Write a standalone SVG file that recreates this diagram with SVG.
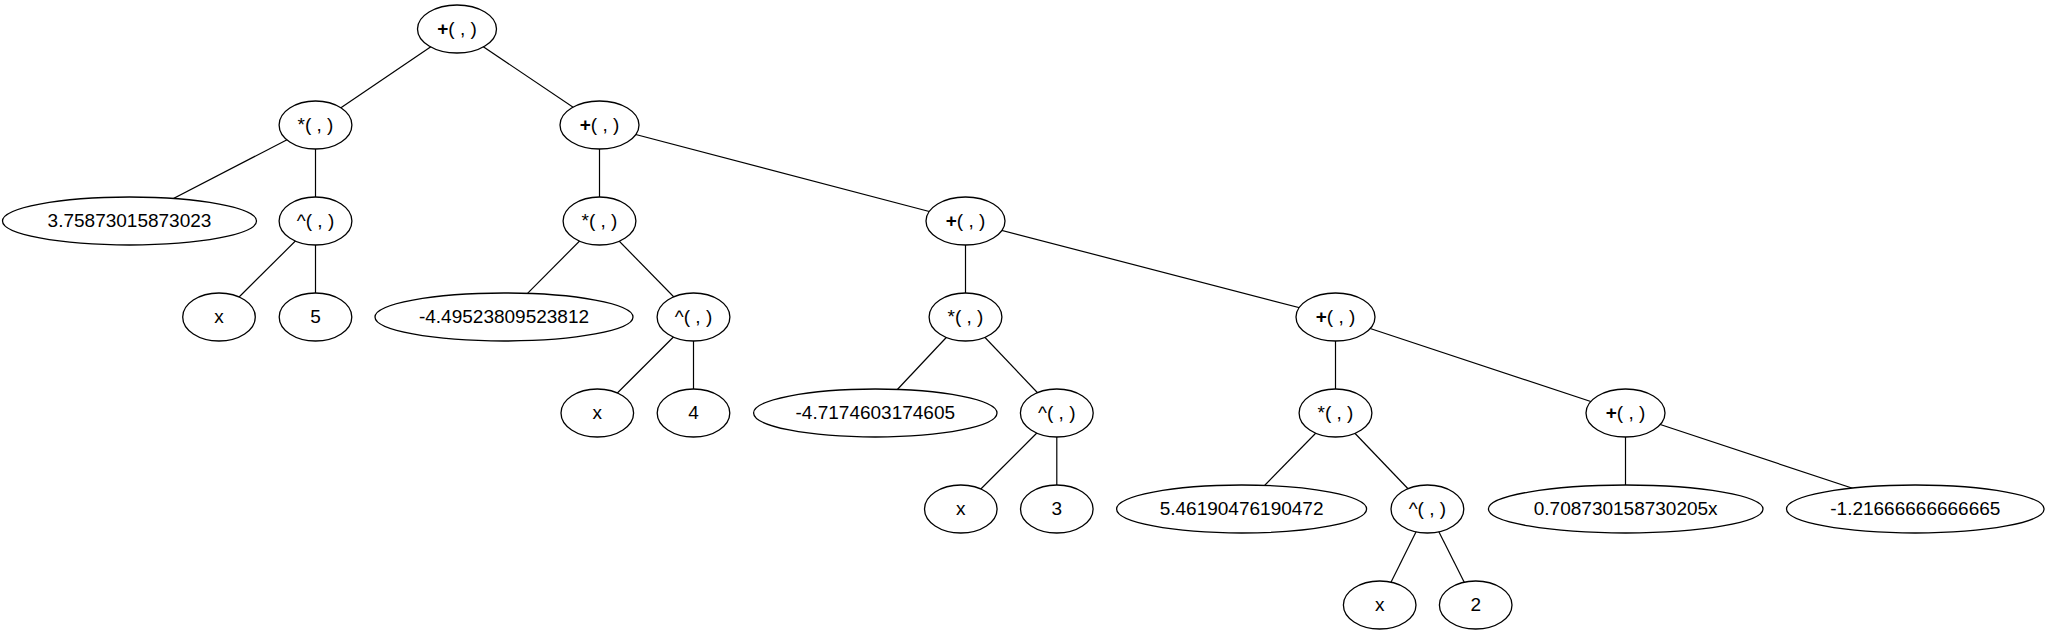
<svg xmlns="http://www.w3.org/2000/svg" width="2051" height="635" viewBox="0 0 2051 635">
<style>
.n ellipse{fill:#fff;stroke:#000;stroke-width:1.3}
.n text{font-family:"Liberation Sans",Arial,sans-serif;font-size:19px;text-anchor:middle;fill:#000}
.b{font-weight:bold}
#edges line{stroke:#000;stroke-width:1.2}
</style>
<rect width="2051" height="635" fill="#fff"/>
<g id="edges">
<line x1="457" y1="29" x2="315.5" y2="125"/>
<line x1="457" y1="29" x2="599.5" y2="125"/>
<line x1="315.5" y1="125" x2="130" y2="221"/>
<line x1="315.5" y1="125" x2="315.5" y2="221"/>
<line x1="599.5" y1="125" x2="599.5" y2="221"/>
<line x1="599.5" y1="125" x2="965.5" y2="221"/>
<line x1="315.5" y1="221" x2="219" y2="317"/>
<line x1="315.5" y1="221" x2="315.5" y2="317"/>
<line x1="599.5" y1="221" x2="504" y2="317"/>
<line x1="599.5" y1="221" x2="693.5" y2="317"/>
<line x1="965.5" y1="221" x2="965.5" y2="317"/>
<line x1="965.5" y1="221" x2="1335.5" y2="317"/>
<line x1="693.5" y1="317" x2="597.3" y2="413"/>
<line x1="693.5" y1="317" x2="693.5" y2="413"/>
<line x1="965.5" y1="317" x2="875.3" y2="413"/>
<line x1="965.5" y1="317" x2="1056.8" y2="413"/>
<line x1="1335.5" y1="317" x2="1335.5" y2="413"/>
<line x1="1335.5" y1="317" x2="1625.5" y2="413"/>
<line x1="1056.8" y1="413" x2="960.8" y2="509"/>
<line x1="1056.8" y1="413" x2="1056.8" y2="509"/>
<line x1="1335.5" y1="413" x2="1241.6" y2="509"/>
<line x1="1335.5" y1="413" x2="1427.4" y2="509"/>
<line x1="1625.5" y1="413" x2="1625.5" y2="509"/>
<line x1="1625.5" y1="413" x2="1915.3" y2="509"/>
<line x1="1427.4" y1="509" x2="1379.7" y2="605"/>
<line x1="1427.4" y1="509" x2="1475.7" y2="605"/>
</g>
<g id="n0" class="n"><ellipse cx="457" cy="29" rx="39.5" ry="24"/><text x="457" y="35"><tspan class="b">+</tspan>( , )</text></g>
<g id="n1" class="n"><ellipse cx="315.5" cy="125" rx="36.4" ry="24"/><text x="315.5" y="131">*( , )</text></g>
<g id="n2" class="n"><ellipse cx="599.5" cy="125" rx="39.5" ry="24"/><text x="599.5" y="131"><tspan class="b">+</tspan>( , )</text></g>
<g id="n3" class="n"><ellipse cx="129.5" cy="221" rx="127" ry="24"/><text x="129.5" y="227">3.75873015873023</text></g>
<g id="n4" class="n"><ellipse cx="315.5" cy="221" rx="36.4" ry="24"/><text x="315.5" y="227">^( , )</text></g>
<g id="n5" class="n"><ellipse cx="599.5" cy="221" rx="36.4" ry="24"/><text x="599.5" y="227">*( , )</text></g>
<g id="n6" class="n"><ellipse cx="965.5" cy="221" rx="39.5" ry="24"/><text x="965.5" y="227"><tspan class="b">+</tspan>( , )</text></g>
<g id="n7" class="n"><ellipse cx="219" cy="317" rx="36.3" ry="24"/><text x="219" y="323">x</text></g>
<g id="n8" class="n"><ellipse cx="315.5" cy="317" rx="36.3" ry="24"/><text x="315.5" y="323">5</text></g>
<g id="n9" class="n"><ellipse cx="504" cy="317" rx="129" ry="24"/><text x="504" y="323">-4.49523809523812</text></g>
<g id="n10" class="n"><ellipse cx="693.5" cy="317" rx="36.4" ry="24"/><text x="693.5" y="323">^( , )</text></g>
<g id="n11" class="n"><ellipse cx="965.5" cy="317" rx="36.4" ry="24"/><text x="965.5" y="323">*( , )</text></g>
<g id="n12" class="n"><ellipse cx="1335.5" cy="317" rx="39.5" ry="24"/><text x="1335.5" y="323"><tspan class="b">+</tspan>( , )</text></g>
<g id="n13" class="n"><ellipse cx="597.3" cy="413" rx="36.3" ry="24"/><text x="597.3" y="419">x</text></g>
<g id="n14" class="n"><ellipse cx="693.5" cy="413" rx="36.3" ry="24"/><text x="693.5" y="419">4</text></g>
<g id="n15" class="n"><ellipse cx="875.3" cy="413" rx="121.7" ry="24"/><text x="875.3" y="419">-4.7174603174605</text></g>
<g id="n16" class="n"><ellipse cx="1056.8" cy="413" rx="36.4" ry="24"/><text x="1056.8" y="419">^( , )</text></g>
<g id="n17" class="n"><ellipse cx="1335.5" cy="413" rx="36.4" ry="24"/><text x="1335.5" y="419">*( , )</text></g>
<g id="n18" class="n"><ellipse cx="1625.5" cy="413" rx="39.5" ry="24"/><text x="1625.5" y="419"><tspan class="b">+</tspan>( , )</text></g>
<g id="n19" class="n"><ellipse cx="960.8" cy="509" rx="36.3" ry="24"/><text x="960.8" y="515">x</text></g>
<g id="n20" class="n"><ellipse cx="1056.8" cy="509" rx="36.3" ry="24"/><text x="1056.8" y="515">3</text></g>
<g id="n21" class="n"><ellipse cx="1241.6" cy="509" rx="125" ry="24"/><text x="1241.6" y="515">5.46190476190472</text></g>
<g id="n22" class="n"><ellipse cx="1427.4" cy="509" rx="36.4" ry="24"/><text x="1427.4" y="515">^( , )</text></g>
<g id="n23" class="n"><ellipse cx="1625.7" cy="509" rx="137.3" ry="24"/><text x="1625.7" y="515">0.708730158730205x</text></g>
<g id="n24" class="n"><ellipse cx="1915.3" cy="509" rx="128.8" ry="24"/><text x="1915.3" y="515">-1.21666666666665</text></g>
<g id="n25" class="n"><ellipse cx="1379.7" cy="605" rx="36.3" ry="24"/><text x="1379.7" y="611">x</text></g>
<g id="n26" class="n"><ellipse cx="1475.7" cy="605" rx="36.3" ry="24"/><text x="1475.7" y="611">2</text></g>
</svg>
